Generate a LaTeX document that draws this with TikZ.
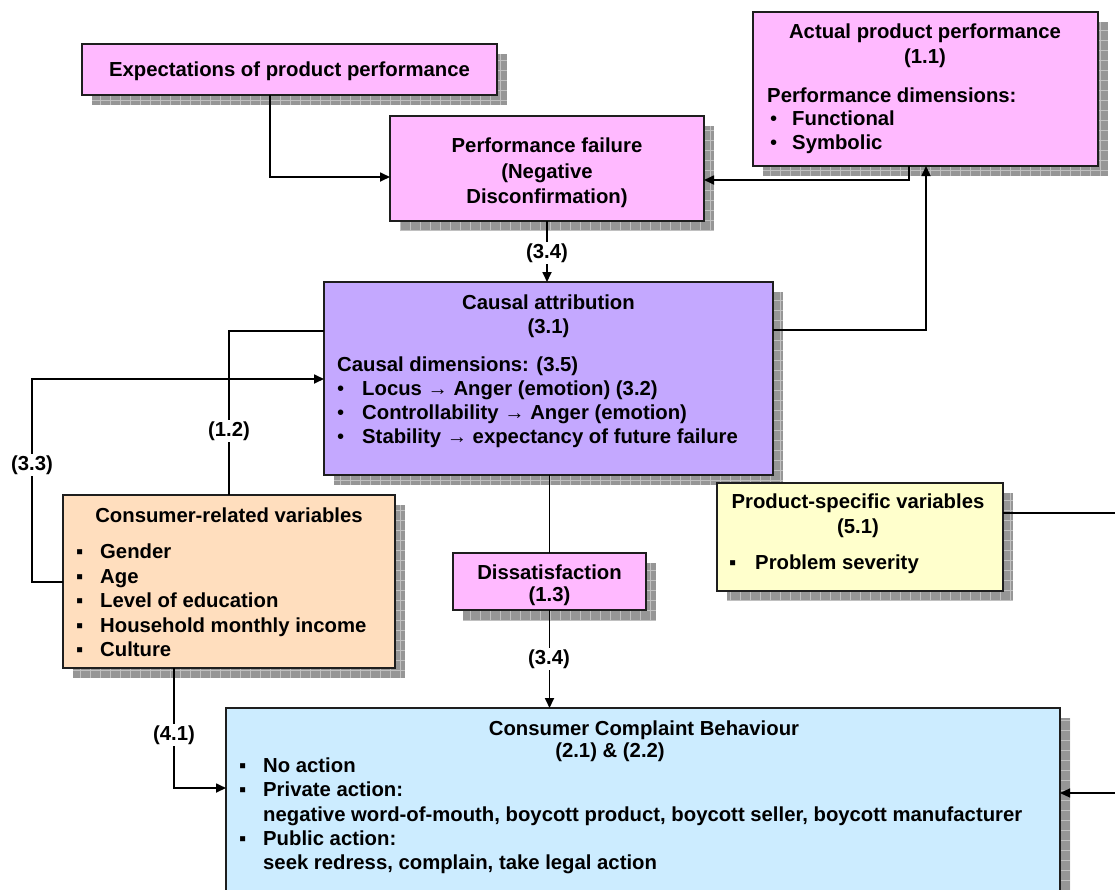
\documentclass[tikz,border=0pt]{standalone}
\usepackage{fontspec}
\setmainfont{Liberation Sans}
\usetikzlibrary{arrows.meta}
\definecolor{pinkc}{RGB}{255,185,255}
\definecolor{purplec}{RGB}{196,168,255}
\definecolor{peachc}{RGB}{255,222,190}
\definecolor{yellowc}{RGB}{255,255,204}
\definecolor{bluec}{RGB}{204,236,255}
\definecolor{shadowc}{RGB}{150,150,150}
\definecolor{shadowgridc}{RGB}{192,192,192}
\definecolor{edgec}{RGB}{30,30,30}
\tikzset{
  box/.style={draw=edgec, line width=1.6pt, inner sep=0pt, outer sep=0pt},
  txt/.style={font=\bfseries\fontsize{20.3}{24}\selectfont, inner sep=0pt, anchor=base},
  txtw/.style={txt, anchor=base west},
  dotw/.style={font=\mdseries\fontsize{20.3}{24}\selectfont, inner sep=0pt, anchor=base west},
  conn/.style={line width=1.7pt, black},
  arr/.style={conn, -{Triangle[length=10pt,width=9pt]}},
  lbl/.style={font=\bfseries\fontsize{20.3}{24}\selectfont, fill=white, inner sep=1.5pt},
  shgrid/.style={draw=shadowgridc, line width=0.7pt}
}
\newcommand\shbox[6]{%
  \fill[shadowc] (#2+10,#3+10) rectangle (#4+10,#5+10);
  \begin{scope}
    \clip (#2+10,#3+10) rectangle (#4+10,#5+10);
    \draw[shgrid, step=10pt] (#2+10,#3+10) grid (#4+10,#5+10);
  \end{scope}
  \node[box, fill=#6, minimum width={#4-#2}, minimum height={#5-#3}, anchor=north west] (#1) at (#2,#3) {};
}
\begin{document}
\begin{tikzpicture}[x=1pt,y=-1pt]
\clip (0,0) rectangle (1115,889);
\fill[white] (0,0) rectangle (1115,889);

% boxes
\shbox{exp}{82}{44}{497}{95}{pinkc}
\shbox{perf}{390}{116}{704}{221}{pinkc}
\shbox{act}{753}{12}{1098}{166}{pinkc}
\shbox{caus}{324}{282}{773}{475}{purplec}
\shbox{cons}{63}{495}{395}{668}{peachc}
\shbox{diss}{453}{553}{646}{610}{pinkc}
\shbox{prod}{717}{483}{1003}{591}{yellowc}
\shbox{ccb}{226}{708}{1060}{930}{bluec}

% texts
\node[txt] (t-exp) at (289.5,76) {Expectations of product performance};

\node[txt] (t-perf1) at (547,152) {Performance failure};
\node[txt] (t-perf2) at (547,178) {(Negative};
\node[txt] (t-perf3) at (547,203) {Disconfirmation)};

\node[txt] (t-act1) at (925,38) {Actual product performance};
\node[txt] (t-act2) at (925,63) {(1.1)};
\node[txtw] (t-act3) at (767,102) {Performance dimensions:};
\node[dotw] (t-act4b) at (770,125) {•};
\node[txtw] (t-act4) at (792,125) {Functional};
\node[dotw] (t-act5b) at (770,149) {•};
\node[txtw] (t-act5) at (792,149) {Symbolic};

\node[txt] (t-caus1) at (548.5,309) {Causal attribution};
\node[txt] (t-caus2) at (548.5,333) {(3.1)};
\node[txtw] (t-caus3) at (337,371) {Causal dimensions: (3.5)};
\node[dotw] (t-caus4b) at (337,395) {•};
\node[txtw] (t-caus4) at (362,395) {Locus → Anger (emotion) (3.2)};
\node[dotw] (t-caus5b) at (337,419) {•};
\node[txtw] (t-caus5) at (362,419) {Controllability → Anger (emotion)};
\node[dotw] (t-caus6b) at (337,443) {•};
\node[txtw] (t-caus6) at (362,443) {Stability → expectancy of future failure};

\node[txt] (t-cons0) at (229,522) {Consumer-related variables};
\node[txtw] (t-cons1b) at (76,558) {▪};
\node[txtw] (t-cons1) at (100,558) {Gender};
\node[txtw] (t-cons2b) at (76,583) {▪};
\node[txtw] (t-cons2) at (100,583) {Age};
\node[txtw] (t-cons3b) at (76,607) {▪};
\node[txtw] (t-cons3) at (100,607) {Level of education};
\node[txtw] (t-cons4b) at (76,632) {▪};
\node[txtw] (t-cons4) at (100,632) {Household monthly income};
\node[txtw] (t-cons5b) at (76,656) {▪};
\node[txtw] (t-cons5) at (100,656) {Culture};

\node[txt] (t-diss1) at (549.5,579) {Dissatisfaction};
\node[txt] (t-diss2) at (549.5,601) {(1.3)};

\node[txt] (t-prod1) at (858,508) {Product-specific variables};
\node[txt] (t-prod2) at (858,533) {(5.1)};
\node[txtw] (t-prod3b) at (729,569) {▪};
\node[txtw] (t-prod3) at (755,569) {Problem severity};

\node[txt] (t-ccb1) at (644,735) {Consumer Complaint Behaviour};
\node[txt] (t-ccb2) at (610,757) {(2.1) \& (2.2)};
\node[txtw] (t-ccb3b) at (239,772) {▪};
\node[txtw] (t-ccb3) at (263,772) {No action};
\node[txtw] (t-ccb4b) at (239,796) {▪};
\node[txtw] (t-ccb4) at (263,796) {Private action:};
\node[txtw] (t-ccb5) at (263,821) {negative word-of-mouth, boycott product, boycott seller, boycott manufacturer};
\node[txtw] (t-ccb6b) at (239,845) {▪};
\node[txtw] (t-ccb6) at (263,845) {Public action:};
\node[txtw] (t-ccb7) at (263,869) {seek redress, complain, take legal action};

% connector bend points
\coordinate (c1) at (270,177);
\coordinate (c2) at (909,180);
\coordinate (c3) at (926,330);
\coordinate (c5) at (229,331);
\coordinate (c6a) at (32,582);
\coordinate (c6b) at (32,379);
\coordinate (c9) at (174,788);
\coordinate (c10a) at (1130,513);
\coordinate (c10b) at (1130,793);

% connectors
\draw[arr] (exp.south -| c1) -- (c1) -- (perf.west |- c1);
\draw[arr] (act.south -| c2) -- (c2) -- (perf.east |- c2);
\draw[arr] (caus.east |- c3) -- (c3) -- (act.south -| c3);
\draw[arr] (perf.south) -- (perf.south |- caus.north);
\draw[conn] (cons.north -| c5) -- (c5) -- (caus.west |- c5);
\draw[arr] (cons.west |- c6a) -- (c6a) -- (c6b) -- (caus.west |- c6b);
\draw[conn] (caus.south -| diss.north) -- (diss.north);
\draw[arr] (diss.south) -- (diss.south |- ccb.north);
\draw[arr] (cons.south -| c9) -- (c9) -- (ccb.west |- c9);
\draw[conn, line width=1.2pt, -{Triangle[length=10pt,width=9pt]}] (prod.east |- c10a) -- (c10a) -- (c10b) -- (ccb.east |- c10b);

% connector labels
\node[lbl] (l34a) at (547,253) {(3.4)};
\node[lbl] (l12) at (229,431) {(1.2)};
\node[lbl] (l33) at (32,465) {(3.3)};
\node[lbl] (l34b) at (549,659) {(3.4)};
\node[lbl] (l41) at (174,735) {(4.1)};
\end{tikzpicture}
\end{document}
